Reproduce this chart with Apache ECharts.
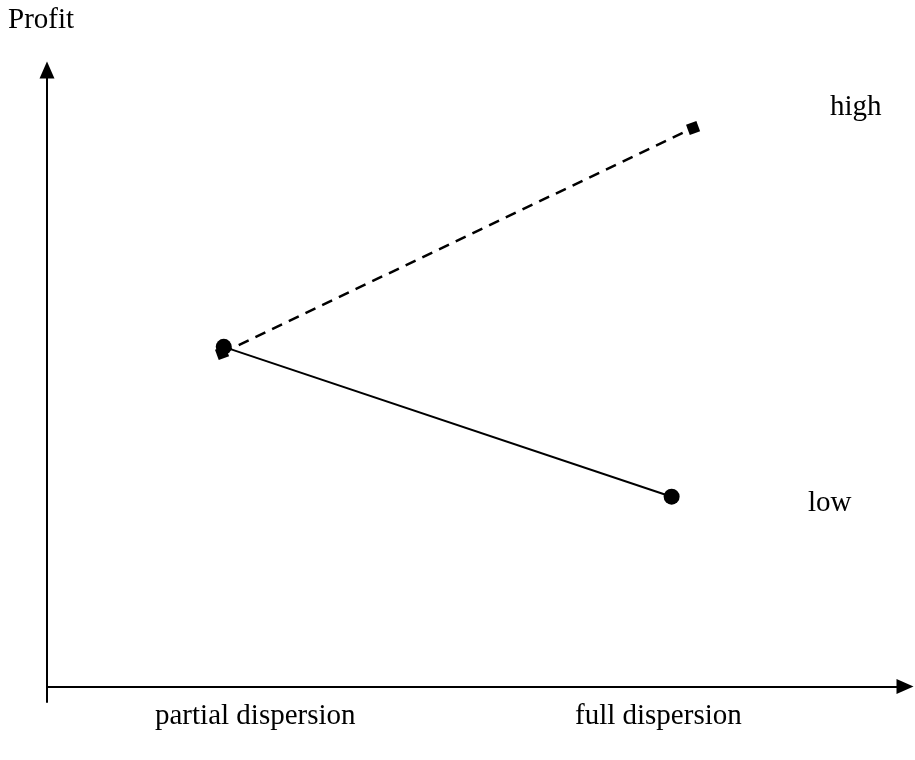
<!DOCTYPE html>
<html>
<head>
<meta charset="utf-8">
<script src="https://cdn.jsdelivr.net/npm/echarts@6/dist/echarts.min.js"></script>
<style>
  html, body { margin: 0; padding: 0; background: #fff; }
  #chart { width: 915px; height: 760px; }
</style>
</head>
<body>
<div id="chart"></div>
<script>
// dispersion levels on the x axis (abstract units), profit on the y axis
var highPoints = [[2.04, 5.41], [7.53, 9.06]];
var lowPoints = [[2.06, 5.51], [7.28, 3.08]];
var categoryLabels = ['partial dispersion', 'full dispersion'];
var yAxisTitle = 'Profit';
var seriesLabels = ['high', 'low'];

var FONT = '"Liberation Serif", "Times New Roman", serif';

var chart = echarts.init(document.getElementById('chart'));

// left edge + vertical centre of each text
function textEl(str, left, midY) {
    return {
        type: 'text',
        x: left,
        y: midY,
        style: {
            text: str,
            font: '29px ' + FONT,
            fill: '#000',
            verticalAlign: 'middle'
        }
    };
}

var option = {
    animation: false,
    backgroundColor: '#fff',
    grid: { left: 47, right: 10, top: 70, bottom: 58 },
    xAxis: {
        type: 'value',
        min: 0,
        max: 10,
        axisLine: {
            onZero: true,
            symbol: ['none', 'triangle'],
            symbolSize: [15, 17],
            lineStyle: { color: '#000', width: 2 }
        },
        axisTick: { show: false },
        axisLabel: { show: false },
        splitLine: { show: false }
    },
    yAxis: {
        type: 'value',
        min: -0.25,
        max: 10,
        axisLine: {
            onZero: false,
            symbol: ['none', 'triangle'],
            symbolSize: [15, 17],
            lineStyle: { color: '#000', width: 2 }
        },
        axisTick: { show: false },
        axisLabel: { show: false },
        splitLine: { show: false }
    },
    graphic: [
        textEl(yAxisTitle, 8, 20),
        textEl(categoryLabels[0], 155, 716),
        textEl(categoryLabels[1], 575, 716),
        textEl(seriesLabels[0], 830, 107),
        textEl(seriesLabels[1], 808, 503)
    ],
    series: [{
        name: seriesLabels[0],
        type: 'line',
        data: highPoints,
        symbol: 'rect',
        symbolSize: 11,
        symbolRotate: 20,
        itemStyle: { color: '#000' },
        lineStyle: { color: '#000', width: 2.5, type: [11, 7.5] }
    }, {
        name: seriesLabels[1],
        type: 'line',
        data: lowPoints,
        symbol: 'circle',
        symbolSize: 16,
        itemStyle: { color: '#000' },
        lineStyle: { color: '#000', width: 2 }
    }]
};

chart.setOption(option);
</script>
</body>
</html>
